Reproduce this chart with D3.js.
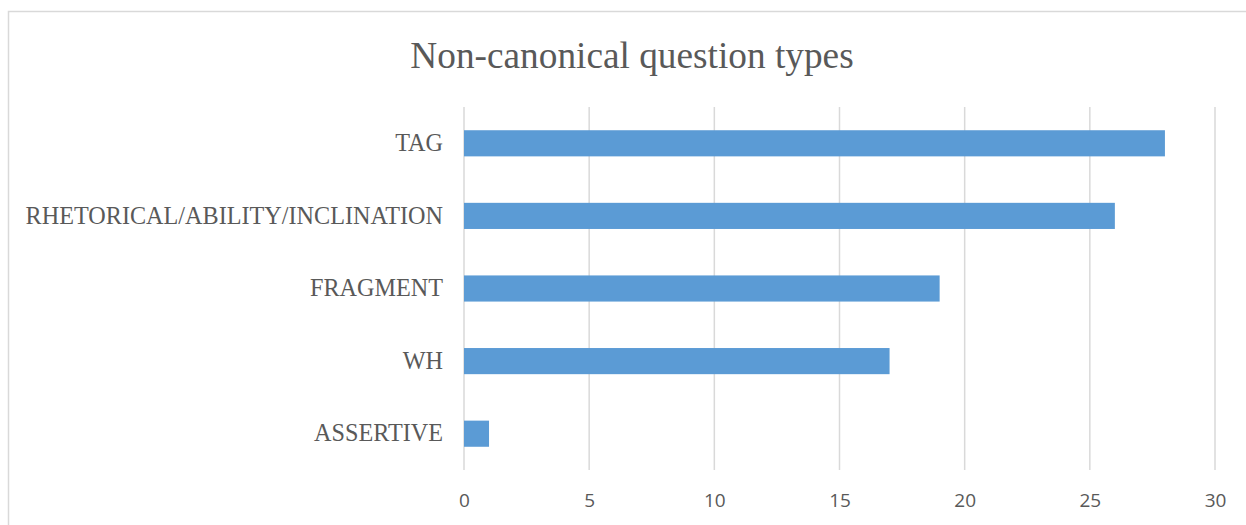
<!DOCTYPE html>
<html>
<head>
<meta charset="utf-8">
<script src="https://cdn.jsdelivr.net/npm/d3@7"></script>
<style>
  html, body { margin: 0; padding: 0; background: #fff; }
  svg { display: block; }
</style>
</head>
<body>
<svg id="chart" width="1246" height="525"></svg>
<script>
// Question type counts
const categories = ["TAG", "RHETORICAL/ABILITY/INCLINATION", "FRAGMENT", "WH", "ASSERTIVE"];
const counts = [28, 26, 19, 17, 1];
const tickValues = [0, 5, 10, 15, 20, 25, 30];
const titleText = "Non-canonical question types";

const W = 1246, H = 525;
const svg = d3.select("#chart");

// chart frame
svg.append("rect")
  .attr("x", 8.5).attr("y", 11.5)
  .attr("width", 1260).attr("height", 540)
  .attr("fill", "#fff")
  .attr("stroke", "#d9d9d9").attr("stroke-width", 1.5);

const plot = { left: 464, right: 1215, top: 107, bottom: 470 };

const x = d3.scaleLinear().domain([0, 30]).range([plot.left, plot.right]);
const y = d3.scaleBand().domain(categories).range([plot.top, plot.bottom]).paddingInner(0.64).paddingOuter(0.32);

// vertical gridlines
svg.append("g")
  .selectAll("line")
  .data(tickValues)
  .join("line")
  .attr("x1", d => x(d)).attr("x2", d => x(d))
  .attr("y1", plot.top).attr("y2", plot.bottom)
  .attr("stroke", "#d9d9d9").attr("stroke-width", 1.5);

// bars
svg.append("g")
  .selectAll("rect")
  .data(categories)
  .join("rect")
  .attr("x", x(0))
  .attr("y", d => y(d))
  .attr("width", (d, i) => x(counts[i]) - x(0))
  .attr("height", y.bandwidth())
  .attr("fill", "#5b9bd5");

// x axis tick labels
const xAxis = d3.axisBottom(x).tickValues(tickValues).tickSize(0).tickPadding(24);
const gx = svg.append("g").attr("transform", `translate(0,${plot.bottom})`).call(xAxis);
gx.select(".domain").remove();
gx.selectAll("text")
  .attr("font-family", "'Open Sans', sans-serif")
  .attr("font-size", 19)
  .attr("fill", "#595959");

// category labels
const yAxis = d3.axisLeft(y).tickSize(0).tickPadding(21);
const gy = svg.append("g").attr("transform", `translate(${plot.left},0)`).call(yAxis);
gy.select(".domain").remove();
gy.selectAll("text")
  .attr("font-family", "'Liberation Serif', 'Times New Roman', serif")
  .attr("font-size", 24.2)
  .attr("fill", "#595959");

// title
svg.append("text")
  .attr("x", 632).attr("y", 68)
  .attr("text-anchor", "middle")
  .attr("font-family", "'Liberation Serif', 'Times New Roman', serif")
  .attr("font-size", 37.3)
  .attr("fill", "#595959")
  .text(titleText);
</script>
</body>
</html>
